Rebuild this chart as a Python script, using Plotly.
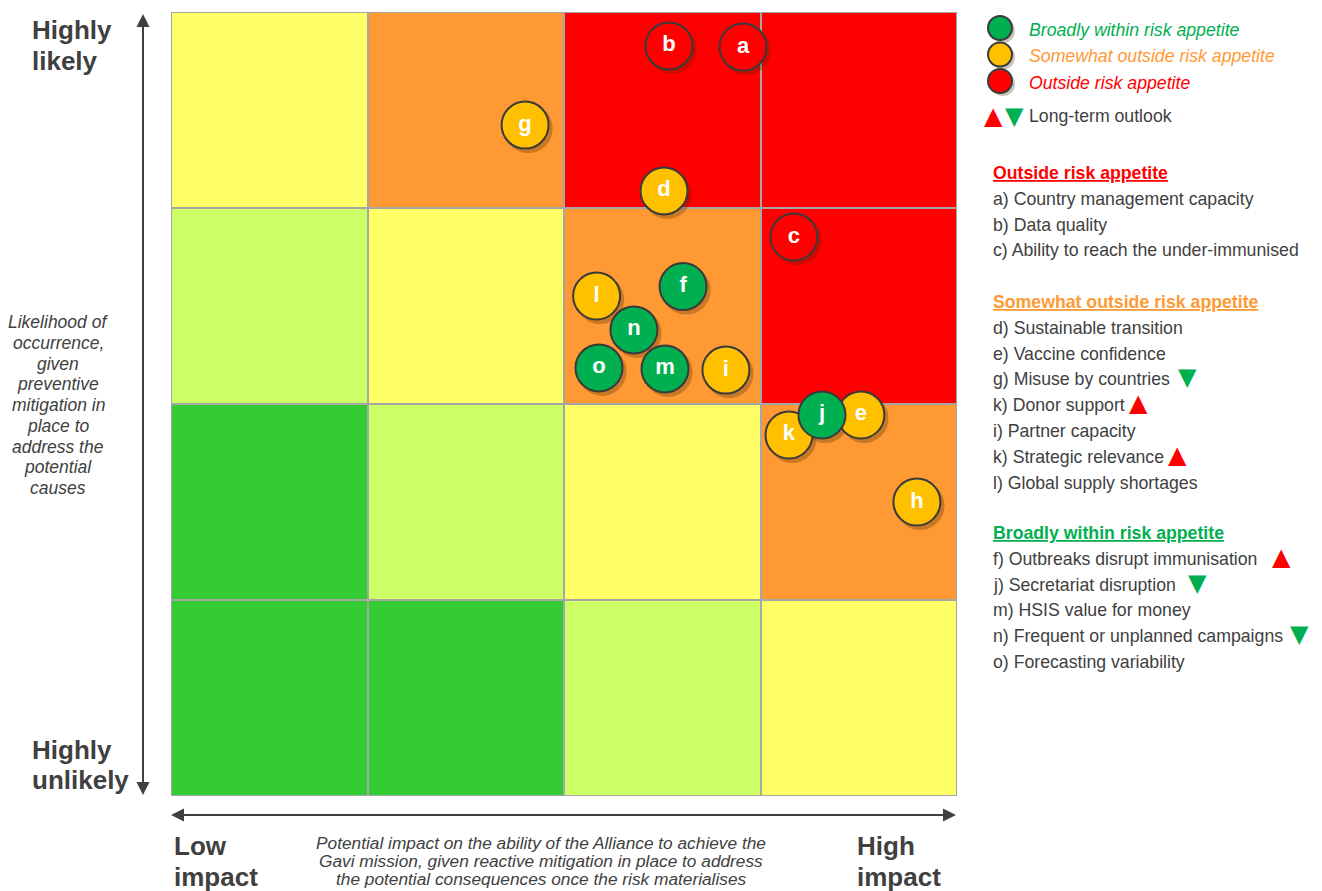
import plotly.graph_objects as go

# ---------------- data ----------------
impact_centres = [0.5, 1.5, 2.5, 3.5]
likelihood_centres = [0.5, 1.5, 2.5, 3.5]
# heat level per cell, rows from bottom (unlikely) to top (likely)
# 0 green, 1 light green, 2 yellow, 3 orange, 4 red
cell_levels = [
    [0, 0, 1, 2],
    [0, 1, 2, 3],
    [1, 2, 3, 4],
    [2, 3, 4, 4],
]
level_colors = ["#33CC33", "#CCFF66", "#FFFF66", "#FF9933", "#FF0000"]

risk_labels = ["a", "b", "g", "d", "c", "f", "l", "n", "o", "m", "i", "k", "e", "j", "h"]
risk_impact = [2.911, 2.534, 1.802, 2.509, 3.170, 2.606, 2.166, 2.356, 2.178, 2.514, 2.824, 3.145, 3.511, 3.313, 3.796]
risk_likelihood = [3.821, 3.827, 3.423, 3.087, 2.852, 2.599, 2.551, 2.378, 2.184, 2.179, 2.173, 1.842, 1.944, 1.944, 1.500]
risk_status = ["out", "out", "some", "some", "out", "within", "some", "within", "within", "within",
               "some", "some", "some", "within", "some"]
status_colors = {"within": "#00B050", "some": "#FFC000", "out": "#FF0000"}

legend_labels = ["Broadly within risk appetite", "Somewhat outside risk appetite", "Outside risk appetite"]
legend_status = ["within", "some", "out"]
legend_text_colors = ["#00B050", "#FF9933", "#FF0000"]

groups = [
    ("Outside risk appetite", "#FF0000",
     ["a) Country management capacity", "b) Data quality", "c) Ability to reach the under-immunised"],
     [None, None, None]),
    ("Somewhat outside risk appetite", "#FF9933",
     ["d) Sustainable transition", "e) Vaccine confidence", "g) Misuse by countries", "k) Donor support",
      "i) Partner capacity", "k) Strategic relevance", "l) Global supply shortages"],
     [None, None, "down", "up", None, "up", None]),
    ("Broadly within risk appetite", "#00B050",
     ["f) Outbreaks disrupt immunisation", "j) Secretariat disruption", "m) HSIS value for money",
      "n) Frequent or unplanned campaigns", "o) Forecasting variability"],
     ["up", "down", None, "down", None]),
]
group_header_y = [173, 302, 533]
trend_x = {  # pixel x of outlook marker per item (same order as items)
    0: [None, None, None],
    1: [None, None, 1187, 1138, None, 1177, None],
    2: [1281, 1197, None, 1299, None],
}

y_axis_text = ["Likelihood of", "occurrence,", "given", "preventive", "mitigation in",
               "place to", "address the", "potential", "causes"]
x_axis_text = ["Potential impact on the ability of the Alliance to achieve the",
               "Gavi mission, given reactive mitigation in place to address",
               "the potential consequences once the risk materialises"]

# ---------------- layout helpers ----------------
# page body has an 8px margin; the figure is sized so the plot lands where the reference has it
OFF = 8
W, H = 1322 - OFF, 891 - OFF
X0, XR, YT, YB = 171, 957, 12, 796          # plot area in page pixels
PW, PH = XR - X0, YB - YT
L, T = X0 - OFF, YT - OFF
R, B = W - L - PW, H - T - PH


def px(xp):
    return (xp - X0) / PW


def py(yp):
    return (YB - yp) / PH


TXT = "#404040"
FONT = "Liberation Sans, Arial, sans-serif"
FS = 17.7

fig = go.Figure()

n = len(level_colors)
cs = []
for i, c in enumerate(level_colors):
    cs.append([i / n, c])
    cs.append([(i + 1) / n, c])
fig.add_trace(go.Heatmap(
    x=impact_centres, y=likelihood_centres, z=cell_levels,
    zmin=-0.5, zmax=n - 0.5, colorscale=cs, showscale=False,
    xgap=2, ygap=2, hoverinfo="skip"))

# shadows
fig.add_trace(go.Scatter(
    x=[v + 0.016 for v in risk_impact], y=[v - 0.018 for v in risk_likelihood],
    mode="markers", marker=dict(size=49, color="rgba(60,40,0,0.28)", line=dict(width=0)),
    hoverinfo="skip", showlegend=False))

fig.add_trace(go.Scatter(
    x=risk_impact, y=risk_likelihood, mode="markers+text",
    text=risk_labels, textposition="middle center",
    textfont=dict(family=FONT, size=22, color="white", weight="bold"),
    marker=dict(size=47, color=[status_colors[s] for s in risk_status],
                line=dict(width=2, color="#3A3A3A")),
    hoverinfo="skip", showlegend=False))

shapes = [dict(type="rect", xref="x", yref="y", x0=0, x1=4, y0=0, y1=4,
               line=dict(color="#A6A6A6", width=2), fillcolor="rgba(0,0,0,0)", layer="above")]
ann = []

# axis arrows: shaft lines + arrowheads
AC = "#404040"
shapes.append(dict(type="line", xref="paper", yref="paper", x0=px(143), x1=px(143), y0=py(22), y1=py(787),
                   line=dict(color=AC, width=2)))
shapes.append(dict(type="line", xref="paper", yref="paper", x0=px(179), x1=px(947), y0=py(815), y1=py(815),
                   line=dict(color=AC, width=2)))
for tip, tail in [((143, 14), (0, 30)), ((143, 795), (0, -30)), ((171, 815), (30, 0)), ((956, 815), (-30, 0))]:
    ann.append(dict(xref="paper", yref="paper", x=px(tip[0]), y=py(tip[1]), ax=tail[0], ay=tail[1],
                    text="", showarrow=True, arrowhead=2, arrowsize=1.3, arrowwidth=2, arrowcolor=AC))

# axis labels
big = dict(family=FONT, size=26, color=TXT, weight="bold")
for txt, xx, yy in [("Highly", 30, 30), ("likely", 30, 61), ("Highly", 30, 750), ("unlikely", 30, 780),
                    ("Low", 172, 846), ("impact", 172, 877), ("High", 855, 846), ("impact", 855, 877)]:
    ann.append(dict(xref="paper", yref="paper", x=px(xx), y=py(yy), text=txt,
                    showarrow=False, xanchor="left", yanchor="middle", font=big))
for i, line in enumerate(y_axis_text):
    ann.append(dict(xref="paper", yref="paper", x=px(58), y=py(322 + 20.75 * i), text="<i>" + line + "</i>",
                    showarrow=False, xanchor="center", yanchor="middle",
                    font=dict(family=FONT, size=17.5, color=TXT)))
for i, line in enumerate(x_axis_text):
    ann.append(dict(xref="paper", yref="paper", x=px(541), y=py(843 + 18 * i), text="<i>" + line + "</i>",
                    showarrow=False, xanchor="center", yanchor="middle",
                    font=dict(family=FONT, size=17.3, color=TXT)))

# legend
for i, (lab, st, tc) in enumerate(zip(legend_labels, legend_status, legend_text_colors)):
    yc = 28 + i * 26.5
    shapes.append(dict(type="circle", xref="paper", yref="paper", xsizemode="pixel", ysizemode="pixel",
                       xanchor=px(1003), yanchor=py(yc + 3), x0=-12, x1=12, y0=-12, y1=12,
                       fillcolor="rgba(60,40,0,0.28)", line=dict(width=0)))
    shapes.append(dict(type="circle", xref="paper", yref="paper", xsizemode="pixel", ysizemode="pixel",
                       xanchor=px(1000), yanchor=py(yc), x0=-12, x1=12, y0=-12, y1=12,
                       fillcolor=status_colors[st], line=dict(width=2, color="#3A3A3A")))
    ann.append(dict(xref="paper", yref="paper", x=px(1027), y=py(yc + 2), text="<i>" + lab + "</i>",
                    showarrow=False, xanchor="left", yanchor="middle",
                    font=dict(family=FONT, size=FS, color=tc)))


def tri(xp, yp, direction):
    if direction == "up":
        return dict(xref="paper", yref="paper", x=px(xp), y=py(yp), text="▲", showarrow=False,
                    xanchor="center", yanchor="middle", font=dict(family="DejaVu Sans", size=24, color="#FF0000"))
    return dict(xref="paper", yref="paper", x=px(xp), y=py(yp), text="▼", showarrow=False,
                xanchor="center", yanchor="middle", font=dict(family="DejaVu Sans", size=24, color="#00B050"))


ann.append(tri(993, 116, "up"))
ann.append(tri(1014, 116, "down"))
ann.append(dict(xref="paper", yref="paper", x=px(1027), y=py(116), text="Long-term outlook",
                showarrow=False, xanchor="left", yanchor="middle",
                font=dict(family=FONT, size=FS, color=TXT)))

for gi, (head, hc, items, trends) in enumerate(groups):
    hy = group_header_y[gi]
    ann.append(dict(xref="paper", yref="paper", x=px(991), y=py(hy), text="<u><b>" + head + "</b></u>",
                    showarrow=False, xanchor="left", yanchor="middle",
                    font=dict(family=FONT, size=FS, color=hc)))
    for k, (it, tr) in enumerate(zip(items, trends)):
        iy = hy + 25.8 * (k + 1)
        ann.append(dict(xref="paper", yref="paper", x=px(991), y=py(iy), text=it,
                        showarrow=False, xanchor="left", yanchor="middle",
                        font=dict(family=FONT, size=FS, color=TXT)))
        if tr:
            ann.append(tri(trend_x[gi][k], iy - 2, tr))

fig.update_layout(
    width=W, height=H, margin=dict(l=L, r=R, t=T, b=B),
    paper_bgcolor="white", plot_bgcolor="#A6A6A6",
    xaxis=dict(range=[0, 4], showgrid=False, zeroline=False, showticklabels=False, ticks="", fixedrange=True),
    yaxis=dict(range=[0, 4], showgrid=False, zeroline=False, showticklabels=False, ticks="", fixedrange=True),
    shapes=shapes, annotations=ann, showlegend=False,
    font=dict(family=FONT, color=TXT),
)

fig.write_html("out.html")
